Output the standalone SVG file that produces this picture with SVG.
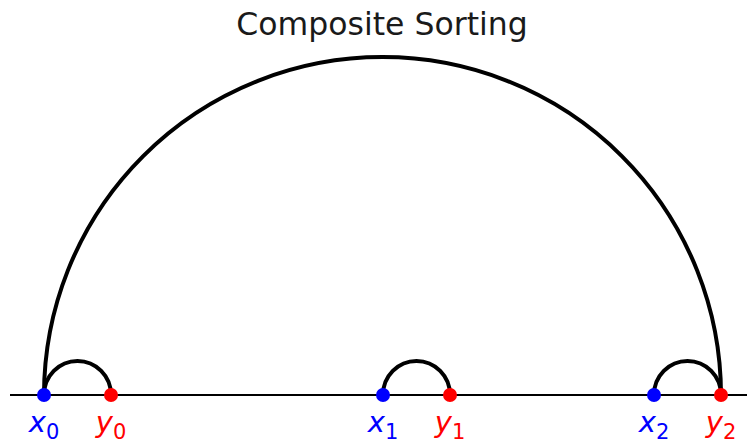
<svg xmlns="http://www.w3.org/2000/svg" width="747" height="448" viewBox="0 0 747 448">
<style>
.arc{fill:none;stroke:#000;stroke-width:4}
.base{stroke:#000;stroke-width:2}
.lbl{font-family:"DejaVu Sans",sans-serif;font-size:29px;text-anchor:middle}
.it{font-style:italic}
.sub{font-size:21px}
.blue{fill:#0000ff}
.red{fill:#ff0000}
.title{font-family:"DejaVu Sans",sans-serif;font-size:31.5px;fill:#1a1a1a;text-anchor:middle}
</style>
<rect width="747" height="448" fill="#fff"/>
<text class="title" x="382" y="35">Composite Sorting</text>
<g id="connectors">
<line class="base" x1="10" y1="395" x2="747" y2="395"/>
<path class="arc" d="M44 395 A338.5 338 0 0 1 721 395"/>
<path class="arc" d="M44 395 A33.5 34 0 0 1 111 395"/>
<path class="arc" d="M383 395 A33.5 34 0 0 1 450 395"/>
<path class="arc" d="M654 395 A33.5 34 0 0 1 721 395"/>
</g>
<g id="x0"><circle class="blue" cx="44" cy="395" r="7"/><text class="lbl blue" x="44" y="432"><tspan class="it">x</tspan><tspan class="sub" dy="7">0</tspan></text></g>
<g id="y0"><circle class="red" cx="111" cy="395" r="7"/><text class="lbl red" x="111" y="432"><tspan class="it">y</tspan><tspan class="sub" dy="7">0</tspan></text></g>
<g id="x1"><circle class="blue" cx="383" cy="395" r="7"/><text class="lbl blue" x="383" y="432"><tspan class="it">x</tspan><tspan class="sub" dy="7">1</tspan></text></g>
<g id="y1"><circle class="red" cx="450" cy="395" r="7"/><text class="lbl red" x="450" y="432"><tspan class="it">y</tspan><tspan class="sub" dy="7">1</tspan></text></g>
<g id="x2"><circle class="blue" cx="654" cy="395" r="7"/><text class="lbl blue" x="654" y="432"><tspan class="it">x</tspan><tspan class="sub" dy="7">2</tspan></text></g>
<g id="y2"><circle class="red" cx="721" cy="395" r="7"/><text class="lbl red" x="721" y="432"><tspan class="it">y</tspan><tspan class="sub" dy="7">2</tspan></text></g>
</svg>
